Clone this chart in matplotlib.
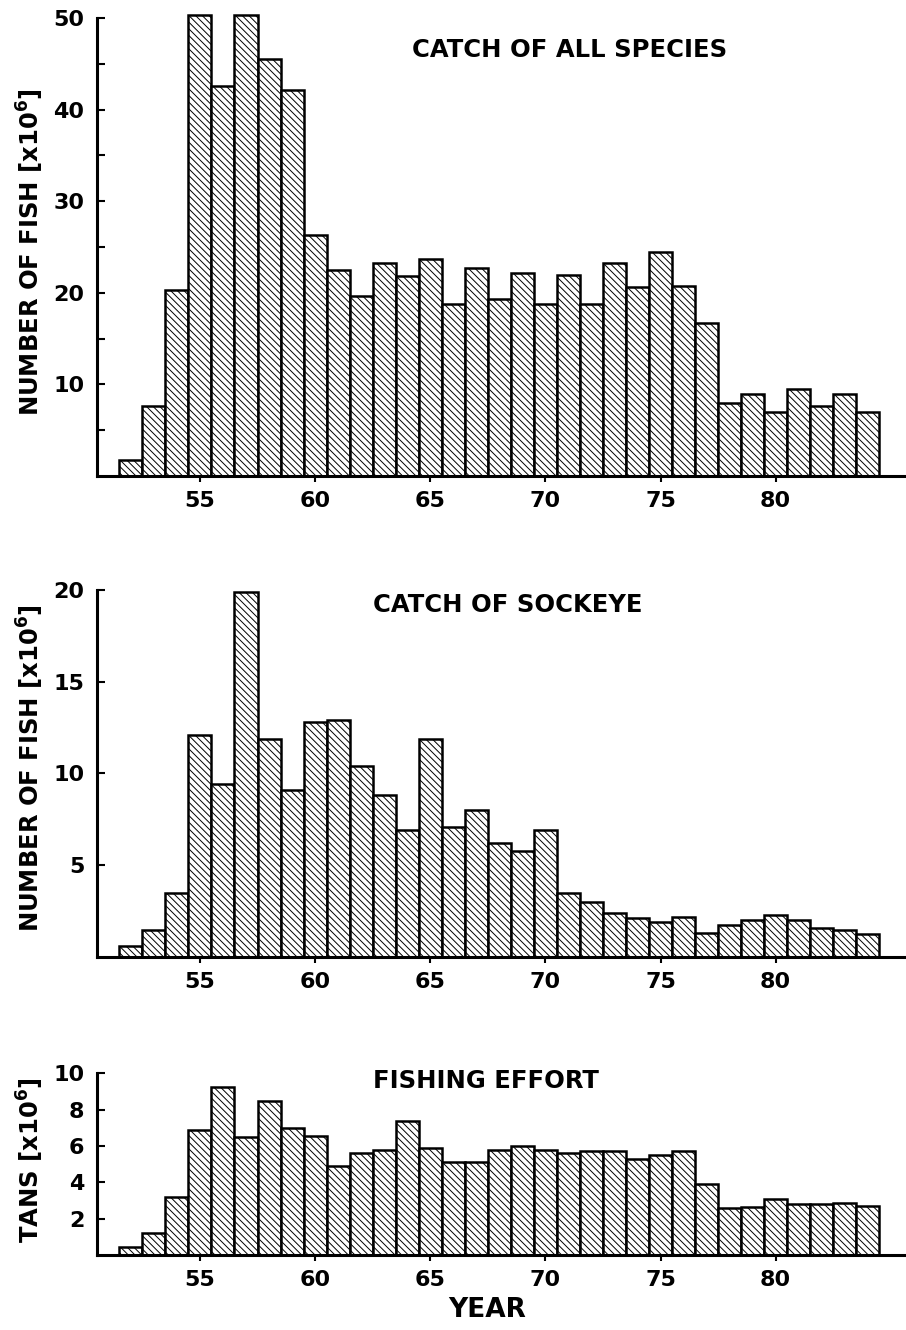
import matplotlib
matplotlib.use('Agg')
from matplotlib import pyplot as plt

# catch and effort data, 1952-1984
years = list(range(52, 85))

all_species = [1.8, 7.6, 20.3, 50.3, 42.6, 50.3, 45.5, 42.1, 26.3, 22.5,
               19.7, 23.2, 21.8, 23.7, 18.8, 22.7, 19.3, 22.2, 18.8, 21.9,
               18.8, 23.3, 20.6, 24.4, 20.7, 16.7, 8.0, 8.9, 7.0, 9.5,
               7.6, 9.0, 7.0]

sockeye = [0.6, 1.45, 3.5, 12.1, 9.4, 19.9, 11.9, 9.1, 12.8, 12.9,
           10.4, 8.8, 6.9, 11.9, 7.1, 8.0, 6.2, 5.75, 6.9, 3.5,
           3.0, 2.4, 2.1, 1.9, 2.15, 1.3, 1.75, 2.0, 2.3, 2.0,
           1.55, 1.45, 1.25]

effort = [0.42, 1.2, 3.2, 6.9, 9.26, 6.5, 8.46, 7.0, 6.55, 4.9,
          5.6, 5.8, 7.4, 5.9, 5.1, 5.1, 5.8, 6.0, 5.8, 5.6,
          5.7, 5.7, 5.3, 5.5, 5.7, 3.9, 2.6, 2.65, 3.07, 2.8,
          2.8, 2.85, 2.7]

year_ticks = [55, 60, 65, 70, 75, 80]

plt.rcParams['font.family'] = ['DejaVu Sans']
plt.rcParams['font.weight'] = 'bold'
plt.rcParams['hatch.linewidth'] = 0.7
plt.rcParams['mathtext.default'] = 'bf'

fig = plt.figure(figsize=(9.06, 13.3), dpi=100)

W = 906.0
H = 1330.0


def make_axes(top_px, bottom_px):
    left = 97 / W
    return fig.add_axes([left, 1 - bottom_px / H, 1 - left, (bottom_px - top_px) / H])


def draw_panel(ax, values, ymax, major, minor):
    bars = ax.bar(years, values, width=1.0, color='white', edgecolor='black',
                  linewidth=1.8, hatch='\\\\\\\\\\')
    for b in bars:
        b.set_clip_on(False)
    ax.set_xlim(50.53, 85.66)
    ax.set_ylim(0, ymax)
    ax.spines['top'].set_visible(False)
    ax.spines['right'].set_visible(False)
    ax.spines['left'].set_linewidth(2.2)
    ax.spines['bottom'].set_linewidth(2.2)
    ax.set_xticks(year_ticks)
    ax.set_xticklabels([str(y) for y in year_ticks])
    ax.set_yticks(major)
    ax.set_yticklabels([str(v) for v in major])
    if minor:
        ax.set_yticks(minor, minor=True)
    ax.tick_params(axis='x', direction='out', length=4, width=1.5, pad=7,
                   labelsize=16)
    ax.tick_params(axis='y', which='both', direction='in', length=6, width=1.5,
                   pad=9, labelsize=16)
    for lab in ax.get_xticklabels() + ax.get_yticklabels():
        lab.set_fontweight('bold')


ax1 = make_axes(18, 476)
draw_panel(ax1, all_species, 50, [10, 20, 30, 40, 50], [5, 15, 25, 35, 45])

ax2 = make_axes(590, 956.7)
draw_panel(ax2, sockeye, 20, [5, 10, 15, 20], None)

ax3 = make_axes(1073.3, 1255)
draw_panel(ax3, effort, 10, [2, 4, 6, 8, 10], None)

# panel titles
fig.text(570 / W, 1 - 50 / H, 'CATCH OF ALL SPECIES', ha='center', va='center',
         fontsize=17.5, fontweight='bold')
fig.text(507.5 / W, 1 - 605 / H, 'CATCH OF SOCKEYE', ha='center', va='center',
         fontsize=17.5, fontweight='bold')
fig.text(486 / W, 1 - 1081 / H, 'FISHING EFFORT', ha='center', va='center',
         fontsize=17.5, fontweight='bold')

# axis labels
fig.text(30 / W, 1 - 252 / H, r'NUMBER OF FISH [x10$^{6}$]', rotation=90,
         ha='center', va='center', fontsize=17.5, fontweight='bold')
fig.text(30 / W, 1 - 768 / H, r'NUMBER OF FISH [x10$^{6}$]', rotation=90,
         ha='center', va='center', fontsize=17.5, fontweight='bold')
fig.text(30 / W, 1 - 1160 / H, r'TANS [x10$^{6}$]', rotation=90,
         ha='center', va='center', fontsize=17.5, fontweight='bold')
fig.text(487 / W, 1 - 1310 / H, 'YEAR', ha='center', va='center',
         fontsize=19, fontweight='bold')

fig.savefig('out.png', dpi=100)
